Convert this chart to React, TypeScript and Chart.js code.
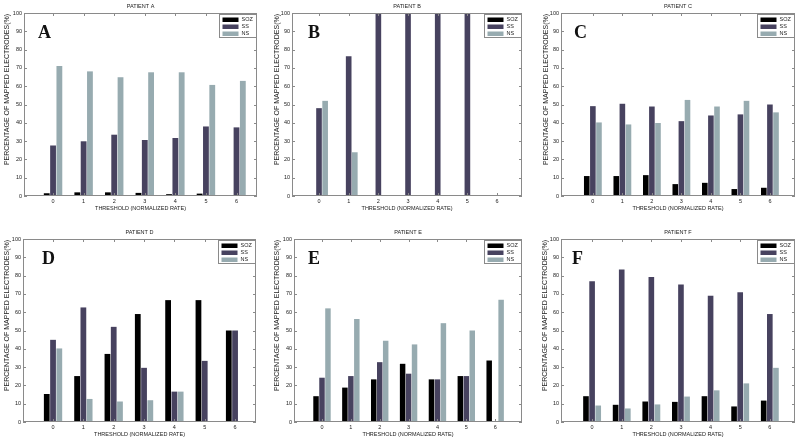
import React, { useEffect, useRef } from "react";
import { Chart, registerables } from "chart.js";
Chart.register(...registerables);

const THRESHOLDS = [0, 1, 2, 3, 4, 5, 6];
const Y_TICKS = [0, 10, 20, 30, 40, 50, 60, 70, 80, 90, 100];
const SERIES = ["SOZ", "SS", "NS"];
const COLORS = ["#000000", "#47425f", "#97abb0"];
const X_TITLE = "THRESHOLD (NORMALIZED RATE)";
const Y_TITLE = "PERCENTAGE OF MAPPED ELECTRODES(%)";

const A_SOZ = [1.5, 2.0, 2.0, 1.7, 1.0, 1.3, 0];
const A_SS = [27.6, 29.9, 33.5, 30.6, 31.7, 38.0, 37.5];
const A_NS = [71.0, 68.1, 64.9, 67.6, 67.6, 60.7, 62.9];

const B_SOZ = [0, 0, 0, 0, 0, 0, null];
const B_SS = [48.0, 76.3, 100, 100, 100, 100, null];
const B_NS = [52.0, 23.9, 0, 0, 0, 0, null];

const C_SOZ = [10.9, 10.9, 11.4, 6.5, 7.2, 3.8, 4.5];
const C_SS = [49.1, 50.4, 48.9, 40.9, 44.0, 44.6, 50.0];
const C_NS = [40.2, 39.1, 39.9, 52.5, 48.9, 52.0, 45.7];

const D_SOZ = [15.3, 25.1, 37.2, 59.0, 66.6, 66.6, 50.0];
const D_SS = [44.9, 62.6, 52.0, 29.6, 16.6, 33.4, 50.0];
const D_NS = [40.2, 12.6, 11.2, 11.9, 16.6, 0, 0];

const E_SOZ = [14.1, 18.8, 23.3, 31.8, 23.3, 25.1, 33.6];
const E_SS = [24.2, 25.1, 32.7, 26.4, 23.3, 25.1, 0];
const E_NS = [62.1, 56.3, 44.4, 42.4, 54.0, 50.0, 66.8];

const F_SOZ = [14.1, 9.4, 11.2, 11.0, 14.1, 8.5, 11.7];
const F_SS = [76.9, 83.4, 79.2, 75.1, 69.0, 70.9, 59.0];
const F_NS = [9.0, 7.4, 9.6, 13.9, 17.3, 21.1, 29.6];

type PanelCfg = {
  letter: string;
  title: string;
  series: (number | null)[][];
  canvasLeft: number;
  canvasTop: number;
  plotLeft: number;
  plotRight: number;
  plotTop: number;
  plotBottom: number;
  xMin: number;
  xMax: number;
  letterDx: number;
};

const PANELS: PanelCfg[] = [
  { letter: "A", title: "PATIENT A", series: [A_SOZ, A_SS, A_NS], canvasLeft: 3, canvasTop: 0, plotLeft: 24, plotRight: 257, plotTop: 13, plotBottom: 196, xMin: -0.95, xMax: 6.67, letterDx: 14 },
  { letter: "B", title: "PATIENT B", series: [B_SOZ, B_SS, B_NS], canvasLeft: 273, canvasTop: 0, plotLeft: 292, plotRight: 522, plotTop: 13, plotBottom: 196, xMin: -0.91, xMax: 6.84, letterDx: 16 },
  { letter: "C", title: "PATIENT C", series: [C_SOZ, C_SS, C_NS], canvasLeft: 542, canvasTop: 0, plotLeft: 561, plotRight: 795, plotTop: 13, plotBottom: 196, xMin: -1.08, xMax: 6.85, letterDx: 13 },
  { letter: "D", title: "PATIENT D", series: [D_SOZ, D_SS, D_NS], canvasLeft: 3, canvasTop: 226, plotLeft: 23, plotRight: 256, plotTop: 239, plotBottom: 422, xMin: -0.99, xMax: 6.69, letterDx: 19 },
  { letter: "E", title: "PATIENT E", series: [E_SOZ, E_SS, E_NS], canvasLeft: 273, canvasTop: 226, plotLeft: 294, plotRight: 522, plotTop: 239, plotBottom: 422, xMin: -0.97, xMax: 6.93, letterDx: 14 },
  { letter: "F", title: "PATIENT F", series: [F_SOZ, F_SS, F_NS], canvasLeft: 541, canvasTop: 226, plotLeft: 561, plotRight: 795, plotTop: 239, plotBottom: 422, xMin: -1.05, xMax: 6.85, letterDx: 11 },
];

const FONT = "'Liberation Sans', Arial, sans-serif";
const TEXT = "#222222";
const FRAME = "#8a8a8a";
const X_AXIS_H = 16;
const RIGHT_PAD = 3;

const framePlugin = {
  id: "matlabFrame",
  afterDatasetsDraw(chart: any) {
    const { ctx, chartArea: a, scales } = chart;
    ctx.save();
    ctx.strokeStyle = FRAME;
    ctx.lineWidth = 1;
    ctx.strokeRect(Math.round(a.left) + 0.5, Math.round(a.top) + 0.5, Math.round(a.right - a.left) - 1, Math.round(a.bottom - a.top) - 1);
    const tl = 3;
    ctx.beginPath();
    scales.y.ticks.forEach((t: any) => {
      const y = Math.round(scales.y.getPixelForValue(t.value)) + 0.5;
      ctx.moveTo(a.left, y); ctx.lineTo(a.left + tl, y);
      ctx.moveTo(a.right, y); ctx.lineTo(a.right - tl, y);
    });
    scales.x.ticks.forEach((t: any) => {
      const x = Math.round(scales.x.getPixelForValue(t.value)) + 0.5;
      ctx.moveTo(x, a.bottom); ctx.lineTo(x, a.bottom - tl);
      ctx.moveTo(x, a.top); ctx.lineTo(x, a.top + tl);
    });
    ctx.stroke();
    ctx.restore();
  },
};

const decorPlugin = {
  id: "decor",
  afterDraw(chart: any, _args: any, opts: any) {
    const { ctx, chartArea: a } = chart;
    ctx.save();
    // panel title
    ctx.fillStyle = TEXT;
    ctx.font = `5.5px ${FONT}`;
    ctx.textAlign = "center";
    ctx.textBaseline = "middle";
    ctx.fillText(opts.title, (a.left + a.right) / 2, a.top - 6.5);
    // y-axis title (rotated)
    ctx.save();
    ctx.translate(4.2, (a.top + a.bottom) / 2 - 15);
    ctx.rotate(-Math.PI / 2);
    ctx.font = `7px ${FONT}`;
    ctx.fillText(Y_TITLE, 0, 0);
    ctx.restore();
    // big panel letter
    ctx.fillStyle = "#111";
    ctx.font = `bold 18px 'Liberation Serif', 'Times New Roman', serif`;
    ctx.textAlign = "left";
    ctx.textBaseline = "alphabetic";
    ctx.fillText(opts.letter, a.left + opts.letterDx, a.top + 25);
    // legend
    const w = 37, h = 23;
    const bx = Math.round(a.right - 1 - w) + 0.5;
    const by = Math.round(a.top + 1) + 0.5;
    ctx.fillStyle = "#ffffff";
    ctx.fillRect(bx, by, w, h);
    ctx.strokeStyle = FRAME;
    ctx.lineWidth = 1;
    ctx.strokeRect(bx, by, w, h);
    ctx.font = `5.5px ${FONT}`;
    ctx.textBaseline = "middle";
    chart.data.datasets.forEach((ds: any, i: number) => {
      const cy = by + 5 + i * 7;
      ctx.fillStyle = ds.backgroundColor;
      ctx.fillRect(bx + 3, cy - 2, 16, 4.5);
      ctx.fillStyle = TEXT;
      ctx.fillText(ds.label, bx + 22, cy);
    });
    ctx.restore();
  },
};

function Panel({ cfg }: { cfg: PanelCfg }) {
  const ref = useRef<HTMLCanvasElement | null>(null);
  const width = cfg.plotRight - cfg.canvasLeft + RIGHT_PAD;
  const height = cfg.plotBottom - cfg.canvasTop + X_AXIS_H;
  useEffect(() => {
    if (!ref.current) return;
    const yWidth = cfg.plotLeft - cfg.canvasLeft;
    const chart = new Chart(ref.current, {
      type: "bar",
      data: {
        datasets: SERIES.map((name, i) => ({
          label: name,
          data: THRESHOLDS.map((t, j) => ({ x: t, y: cfg.series[i][j] })),
          backgroundColor: COLORS[i],
          borderWidth: 0,
          categoryPercentage: 0.62,
          barPercentage: 0.92,
        })),
      },
      options: {
        responsive: false,
        animation: false,
        layout: { padding: { left: 0, right: RIGHT_PAD, top: cfg.plotTop - cfg.canvasTop, bottom: 0 } },
        plugins: {
          legend: { display: false },
          tooltip: { enabled: false },
          title: { display: false },
          decor: { title: cfg.title, letter: cfg.letter, letterDx: cfg.letterDx },
        } as any,
        scales: {
          x: {
            type: "linear",
            offset: false,
            min: cfg.xMin,
            max: cfg.xMax,
            grid: { display: false, drawTicks: false, offset: false },
            border: { display: false },
            ticks: { color: TEXT, font: { size: 5.5, family: FONT }, padding: 2.5, maxRotation: 0, autoSkip: false, callback: (v: any) => String(v) },
            afterBuildTicks: (s: any) => { s.ticks = THRESHOLDS.map((v) => ({ value: v })); },
            afterFit: (s: any) => { s.height = X_AXIS_H; s.paddingLeft = 0; s.paddingRight = 0; },
            title: { display: true, text: X_TITLE, color: TEXT, font: { size: 5.5, family: FONT }, padding: { top: 0, bottom: 0 } },
          },
          y: {
            type: "linear",
            min: 0,
            max: 100,
            grid: { display: false, drawTicks: false },
            border: { display: false },
            ticks: { color: TEXT, font: { size: 5.5, family: FONT }, padding: 2, stepSize: 10 },
            afterBuildTicks: (s: any) => { s.ticks = Y_TICKS.map((v) => ({ value: v })); },
            afterFit: (s: any) => { s.width = yWidth; s.paddingTop = 0; s.paddingBottom = 0; },
            title: { display: false },
          },
        },
      } as any,
      plugins: [framePlugin, decorPlugin],
    });
    return () => chart.destroy();
  }, []);
  return (
    <div style={{ position: "absolute", left: cfg.canvasLeft, top: cfg.canvasTop, width, height }}>
      <canvas ref={ref} width={width} height={height} style={{ display: "block", width, height }} />
    </div>
  );
}

export default function App() {
  return (
    <div style={{ position: "fixed", left: 0, top: 0, width: 800, height: 443, background: "#ffffff", overflow: "hidden" }}>
      {PANELS.map((p) => (
        <Panel key={p.letter} cfg={p} />
      ))}
    </div>
  );
}
